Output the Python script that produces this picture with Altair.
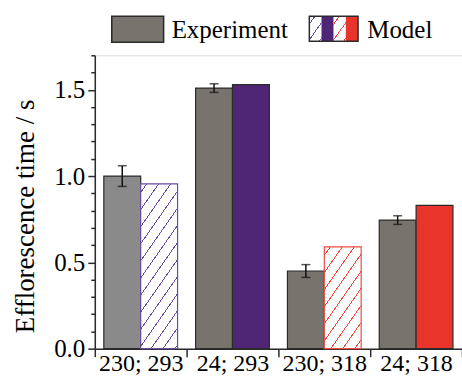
import math
import altair as alt
import pandas as pd

# ---- data ----
groups = ["230; 293", "24; 293", "230; 318", "24; 318"]
series = ["Experiment", "Model"]
experiment = [1.00, 1.51, 0.45, 0.745]
experiment_err = [0.06, 0.025, 0.037, 0.025]
model = [0.955, 1.53, 0.59, 0.83]
hatched_model_groups = ["230; 293", "230; 318"]

FONT = "Liberation Serif"
GRAY1 = "#8a8a8a"
GRAY = "#77746e"
PURPLE = "#4f2676"
RED = "#e8342b"
HATCH_PURPLE = "#6a4da0"
HATCH_RED = "#ef4a40"
DARK = "#2b2b2b"

W_PLOT, H_PLOT = 368, 294
Y_MAX = 1.7

rows = []
for g, e, s, m in zip(groups, experiment, experiment_err, model):
    rows.append(dict(group=g, series="Experiment", value=e, lo=e - s, hi=e + s,
                     key="Experiment|" + g))
    rows.append(dict(group=g, series="Model", value=m, lo=m, hi=m, key="Model|" + g))
df = pd.DataFrame(rows)

solid_keys = ["Experiment|" + g for g in groups] + ["Model|24; 293", "Model|24; 318"]
solid_colors = [GRAY1, GRAY, GRAY, GRAY, PURPLE, RED]


def hatch(color, w, h, period=12.0, lw=1.1, angle=55.0):
    """Linear gradient with sharp stops that draws '/' hatching in a w x h box."""
    k = h / (w * math.tan(math.radians(angle)))
    a = (1 + k) / (1 + k * k)
    span = w * (1 + k)
    p = period / span
    hw = lw / span / 2
    stops = [{"offset": 0, "color": "white"}]
    o = p / 2
    while o + hw < 1:
        stops += [{"offset": o - hw, "color": "white"},
                  {"offset": o - hw, "color": color},
                  {"offset": o + hw, "color": color},
                  {"offset": o + hw, "color": "white"}]
        o += p
    stops.append({"offset": 1, "color": "white"})
    return {"gradient": "linear", "x1": 0, "y1": 0, "x2": a, "y2": k * a, "stops": stops}


bar_w = W_PLOT / len(groups) / (2 + 2 * 0.245)
px_per_unit = H_PLOT / Y_MAX

minor_vals = [round(i / 10, 1) for i in range(18)]
is_major = "abs(datum.value*2 - round(datum.value*2)) < 0.001"

x_enc = alt.X("group:N", sort=groups,
              scale=alt.Scale(domain=groups, paddingInner=0, paddingOuter=0),
              axis=alt.Axis(title=None, labelAngle=0, tickBand="extent", tickSize=8,
                            labelPadding=-5, labelFontSize=24, labelFont=FONT,
                            labelColor="black", domainColor=DARK, tickColor=DARK,
                            domainWidth=1.5, tickWidth=1.5))
xo_enc = alt.XOffset("series:N", sort=series,
                     scale=alt.Scale(domain=series, paddingInner=0, paddingOuter=0.245))
y_scale = alt.Scale(domain=[0, Y_MAX], nice=False, zero=True)
y_axis = alt.Axis(title="Efflorescence time / s", values=minor_vals,
                  labelExpr=f"{is_major} ? format(datum.value, '.1f') : ''",
                  labelOverlap=False, labelFlush=False,
                  tickSize={"condition": {"test": is_major, "value": 7}, "value": 4},
                  labelPadding=3, labelFontSize=25, labelFont=FONT,
                  labelColor="black", titleFont=FONT, titleFontSize=27,
                  titleFontWeight="normal", titleColor="black", titlePadding=14,
                  titleY=161, domainColor=DARK, tickColor=DARK,
                  domainWidth=1.5, tickWidth=1.5, grid=False)


def Y(field):
    return alt.Y(field + ":Q", scale=y_scale, axis=y_axis)


base = alt.Chart(df).encode(x=x_enc, xOffset=xo_enc)

bars = base.mark_bar(stroke=DARK, strokeWidth=1.2).encode(
    y=Y("value"),
    color=alt.Color("key:N", scale=alt.Scale(domain=solid_keys, range=solid_colors), legend=None),
).transform_filter(alt.FieldOneOfPredicate(field="key", oneOf=solid_keys))

hatch_layers = []
for g, col, hcol in zip(hatched_model_groups, [PURPLE, RED], [HATCH_PURPLE, HATCH_RED]):
    v = model[groups.index(g)]
    hatch_layers.append(
        base.mark_bar(fill=hatch(hcol, bar_w, v * px_per_unit), stroke=hcol, strokeWidth=1.2)
        .encode(y=Y("value"))
        .transform_filter(alt.datum.key == "Model|" + g)
    )

exp_only = base.transform_filter(alt.datum.series == "Experiment")
err_rule = exp_only.mark_rule(color="#111", strokeWidth=1.5).encode(y=Y("lo"), y2="hi:Q")
cap_lo = exp_only.mark_tick(color="#111", size=9, thickness=1.5).encode(y=Y("lo"))
cap_hi = exp_only.mark_tick(color="#111", size=9, thickness=1.5).encode(y=Y("hi"))

# ---- custom legend above the plot ----
leg = alt.Chart(pd.DataFrame({"label": series}))
one = leg.transform_filter(alt.datum.label == "Experiment")
exp_box = one.mark_rect(fill=GRAY, stroke=DARK, strokeWidth=1.5).encode(
    x=alt.value(17), x2=alt.value(69), y=alt.value(-39), y2=alt.value(-13))
exp_txt = one.mark_text(align="left", baseline="alphabetic", font=FONT, fontSize=25,
                        color="black").encode(
    x=alt.value(77), y=alt.value(-17), text="label:N")
mod = leg.transform_filter(alt.datum.label == "Model")
sw = 12.2
sw_x = [215, 215 + sw, 215 + 2 * sw, 215 + 3 * sw, 215 + 4 * sw]
sw_fills = [hatch(HATCH_PURPLE, sw, 25, period=11, lw=1.1), PURPLE,
            hatch(HATCH_RED, sw, 25, period=11, lw=1.1), RED]
sw_layers = [
    mod.mark_rect(fill=f).encode(x=alt.value(sw_x[i]), x2=alt.value(sw_x[i + 1]),
                                 y=alt.value(-39), y2=alt.value(-14))
    for i, f in enumerate(sw_fills)
]
sw_frame = mod.mark_rect(fill="transparent", stroke=DARK, strokeWidth=1.5).encode(
    x=alt.value(sw_x[0]), x2=alt.value(sw_x[-1]), y=alt.value(-39), y2=alt.value(-14))
mod_txt = mod.mark_text(align="left", baseline="alphabetic", font=FONT, fontSize=25,
                        color="black").encode(
    x=alt.value(273), y=alt.value(-17), text="label:N")

chart = alt.layer(
    bars, *hatch_layers, err_rule, cap_lo, cap_hi,
    exp_box, exp_txt, *sw_layers, sw_frame, mod_txt,
).properties(
    width=W_PLOT, height=H_PLOT,
    autosize=alt.AutoSizeParams(type="none"),
    padding={"left": 95, "top": 55, "right": 0, "bottom": 28},
).configure_view(stroke=DARK, strokeWidth=1.5).configure(background="white")

chart.save("out.html", embed_options={"renderer": "svg", "actions": False})
